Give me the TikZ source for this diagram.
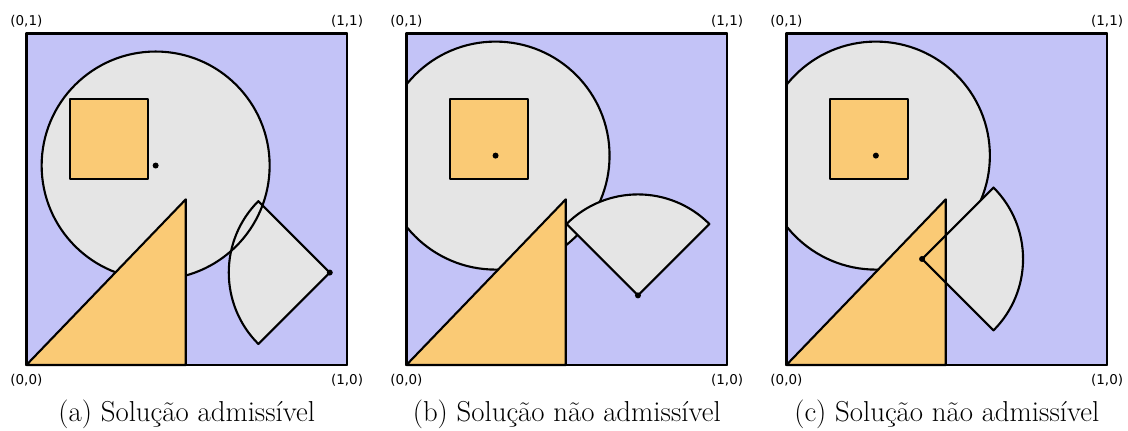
\documentclass[tikz,border=0pt]{standalone}
\usepackage{fontspec}
\newfontfamily\cornerfont{DejaVu Sans}
\usetikzlibrary{positioning}
\definecolor{cregion}{RGB}{195,195,247}
\definecolor{cpiece}{RGB}{250,202,117}
\definecolor{czone}{RGB}{229,229,229}

\begin{document}
\begin{tikzpicture}[
  line width=1.5pt,
  line join=round,
  panel/.style={x=8.0175cm,y=8.283cm},
  frame/.style={draw,line width=1.9pt},
  region/.style={frame,fill=cregion},
  piece/.style={draw,fill=cpiece},
  zone/.style={draw,fill=czone},
  corner/.style={font=\cornerfont\fontsize{9.6}{11}\selectfont,inner sep=0pt},
  caption/.style={font=\fontsize{20.5}{24}\selectfont,anchor=base,inner sep=0pt,yshift=-1.42cm},
  pin/.style={fill=black}
]
  \useasboundingbox (0,0) rectangle (28.2,10.775);

  % (a) admissible
  \begin{scope}[panel,shift={(0.66cm,1.65cm)}]
    \path[region] (0,0) rectangle (1,1);
    \coordinate (ca) at (0.403,0.602);
    \coordinate (sa) at (0.946,0.279);
    \fill[czone] (ca) circle[radius=2.85cm];
    \fill[czone] (sa) -- ++(135:2.525cm) arc[start angle=135,end angle=225,radius=2.525cm] -- cycle;
    \draw (ca) circle[radius=2.85cm];
    \draw (sa) -- ++(135:2.525cm) arc[start angle=135,end angle=225,radius=2.525cm] -- cycle;
    \path[piece] (0.137,0.561) rectangle (0.379,0.802);
    \path[piece] (0,0) -- (0.497,0) -- (0.497,0.5) -- cycle;
    \fill[pin] (ca) circle[radius=0.075cm];
    \fill[pin] (sa) circle[radius=0.075cm];
    \path[frame] (0,0) rectangle (1,1);
    \node[corner,above=0.14cm of {(0,1)}] (a01) {(0,1)};
    \node[corner,above=0.14cm of {(1,1)}] (a11) {(1,1)};
    \node[corner,below=0.2cm of {(0,0)}] (a00) {(0,0)};
    \node[corner,below=0.2cm of {(1,0)}] (a10) {(1,0)};
    \node[caption] (capa) at (0.5,0) {(a) Solução admissível};
  \end{scope}

  % (b) sector leaves the circle
  \begin{scope}[panel,shift={(10.16cm,1.65cm)}]
    \path[region] (0,0) rectangle (1,1);
    \coordinate (cb) at (0.278,0.632);
    \coordinate (sb) at (0.722,0.210);
    \begin{scope}
      \clip (0,0) rectangle (1,1);
      \path[zone] (cb) circle[radius=2.85cm];
    \end{scope}
    \path[piece] (0.137,0.561) rectangle (0.379,0.802);
    \path[piece] (0,0) -- (0.497,0) -- (0.497,0.5) -- cycle;
    \path[zone] (sb) -- ++(45:2.525cm) arc[start angle=45,end angle=135,radius=2.525cm] -- cycle;
    \fill[pin] (cb) circle[radius=0.075cm];
    \fill[pin] (sb) circle[radius=0.075cm];
    \path[frame] (0,0) rectangle (1,1);
    \node[corner,above=0.14cm of {(0,1)}] (b01) {(0,1)};
    \node[corner,above=0.14cm of {(1,1)}] (b11) {(1,1)};
    \node[corner,below=0.2cm of {(0,0)}] (b00) {(0,0)};
    \node[corner,below=0.2cm of {(1,0)}] (b10) {(1,0)};
    \node[caption] (capb) at (0.5,0) {(b) Solução não admissível};
  \end{scope}

  % (c) sector overlaps the triangle
  \begin{scope}[panel,shift={(19.66cm,1.65cm)}]
    \path[region] (0,0) rectangle (1,1);
    \coordinate (cc) at (0.279,0.632);
    \coordinate (sc) at (0.423,0.320);
    \begin{scope}
      \clip (0,0) rectangle (1,1);
      \path[zone] (cc) circle[radius=2.85cm];
    \end{scope}
    \path[piece] (0.137,0.561) rectangle (0.379,0.802);
    \fill[czone] (sc) -- ++(-45:2.525cm) arc[start angle=-45,end angle=45,radius=2.525cm] -- cycle;
    \path[piece] (0,0) -- (0.497,0) -- (0.497,0.5) -- cycle;
    \draw (sc) -- ++(-45:2.525cm) arc[start angle=-45,end angle=45,radius=2.525cm] -- cycle;
    \fill[pin] (cc) circle[radius=0.075cm];
    \fill[pin] (sc) circle[radius=0.075cm];
    \path[frame] (0,0) rectangle (1,1);
    \node[corner,above=0.14cm of {(0,1)}] (c01) {(0,1)};
    \node[corner,above=0.14cm of {(1,1)}] (c11) {(1,1)};
    \node[corner,below=0.2cm of {(0,0)}] (c00) {(0,0)};
    \node[corner,below=0.2cm of {(1,0)}] (c10) {(1,0)};
    \node[caption] (capc) at (0.5,0) {(c) Solução não admissível};
  \end{scope}
\end{tikzpicture}
\end{document}
